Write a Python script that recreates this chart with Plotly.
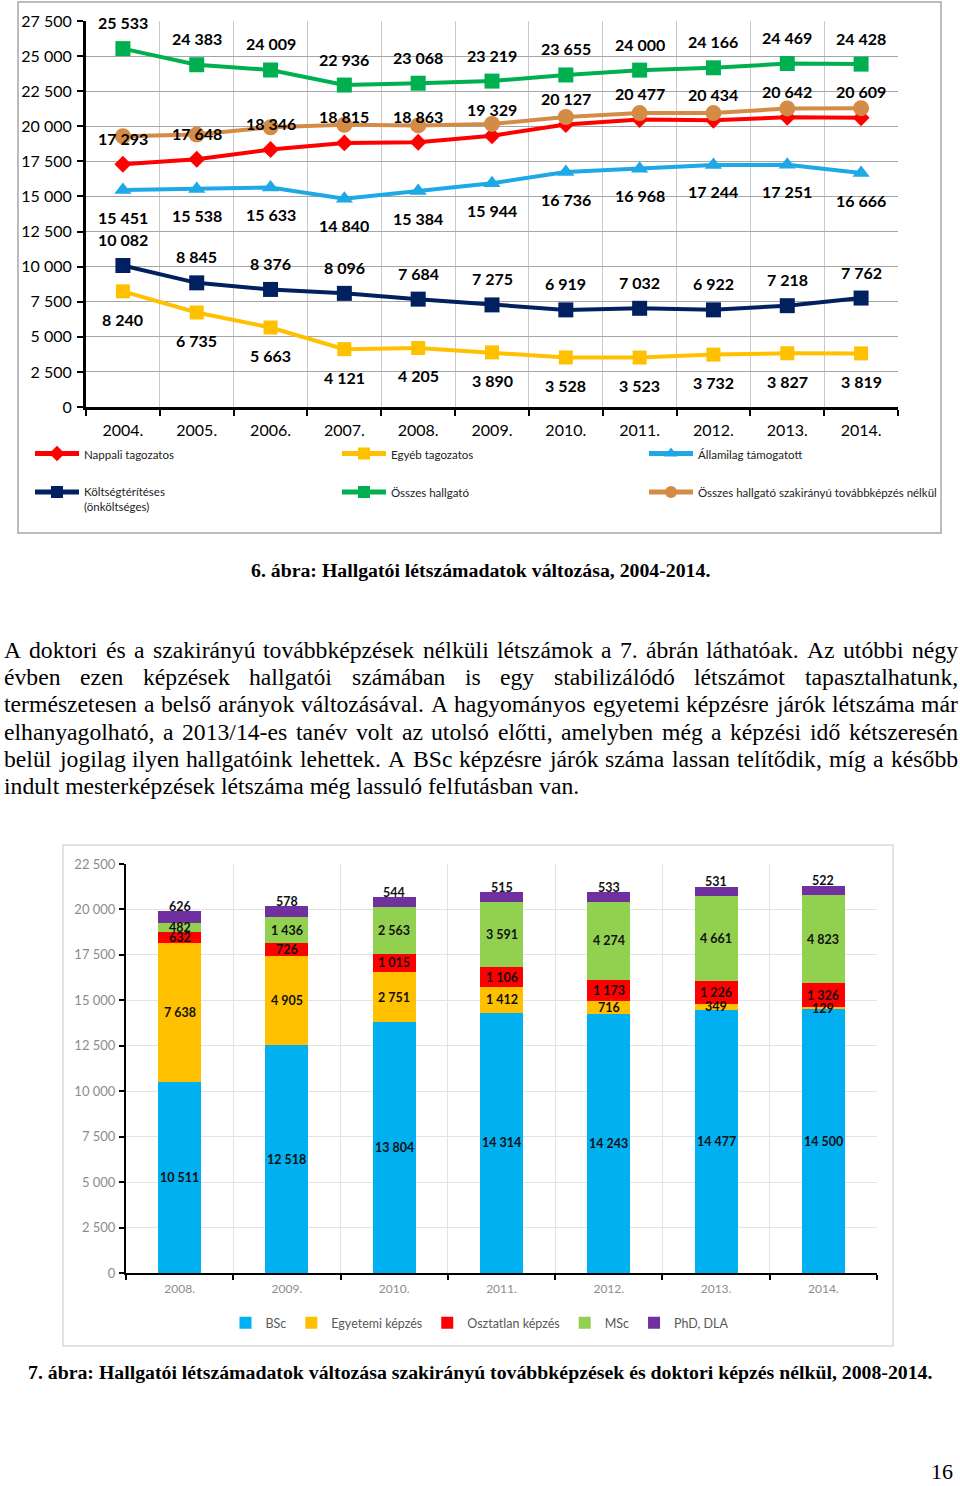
import plotly.graph_objects as go

W, H = 960, 1486

# ---------------- data: figure 6 ----------------
years_top = ["2004.", "2005.", "2006.", "2007.", "2008.", "2009.", "2010.", "2011.", "2012.", "2013.", "2014."]
nappali = [17293, 17648, 18346, 18815, 18863, 19329, 20127, 20477, 20434, 20642, 20609]
egyeb = [8240, 6735, 5663, 4121, 4205, 3890, 3528, 3523, 3732, 3827, 3819]
allami = [15451, 15538, 15633, 14840, 15384, 15944, 16736, 16968, 17244, 17251, 16666]
koltseg = [10082, 8845, 8376, 8096, 7684, 7275, 6919, 7032, 6922, 7218, 7762]
osszes = [25533, 24383, 24009, 22936, 23068, 23219, 23655, 24000, 24166, 24469, 24428]
osszes_nelkul = [19290, 19410, 19930, 20110, 20060, 20170, 20660, 20940, 20940, 21270, 21290]

# ---------------- data: figure 7 ----------------
years_bot = ["2008.", "2009.", "2010.", "2011.", "2012.", "2013.", "2014."]
bsc = [10511, 12518, 13804, 14314, 14243, 14477, 14500]
egyetemi = [7638, 4905, 2751, 1412, 716, 349, 129]
osztatlan = [632, 726, 1015, 1106, 1173, 1226, 1326]
msc = [482, 1436, 2563, 3591, 4274, 4661, 4823]
phd = [626, 578, 544, 515, 533, 531, 522]

caption6 = "6. ábra: Hallgatói létszámadatok változása, 2004-2014."
caption7 = "7. ábra: Hallgatói létszámadatok változása szakirányú továbbképzések és doktori képzés nélkül, 2008-2014."
body_lines = [
    "A doktori és a szakirányú továbbképzések nélküli létszámok a 7. ábrán láthatóak. Az utóbbi négy",
    "évben ezen képzések hallgatói számában is egy stabilizálódó létszámot tapasztalhatunk,",
    "természetesen a belső arányok változásával. A hagyományos egyetemi képzésre járók létszáma már",
    "elhanyagolható, a 2013/14-es tanév volt az utolsó előtti, amelyben még a képzési idő kétszeresén",
    "belül jogilag ilyen hallgatóink lehettek. A BSc képzésre járók száma lassan telítődik, míg a később",
    "indult mesterképzések létszáma még lassuló felfutásban van.",
]
page_no = "16"


def X(px):
    return px / W


def Y(py):
    return 1 - py / H


def fmt(v):
    return f"{v:,}".replace(",", " ")


CH = "Lato"
fig = go.Figure()

# ---------- top line chart ----------
top_series = [
    ("Nappali tagozatos", nappali, "#FF0000", "diamond", 13, "legend"),
    ("Egyéb tagozatos", egyeb, "#FFC000", "square", 14, "legend"),
    ("Államilag támogatott", allami, "#1EA8E6", "triangle-up", 15, "legend"),
    ("Költségtérítéses<br>(önköltséges)", koltseg, "#002060", "square", 15, "legend2"),
    ("Összes hallgató", osszes, "#00B050", "square", 15, "legend2"),
    ("Összes hallgató szakirányú továbbképzés nélkül", osszes_nelkul, "#D38B45", "circle", 16, "legend2"),
]
for name, vals, col, sym, sz, lg in top_series:
    fig.add_trace(go.Scatter(
        x=years_top, y=vals, name=name, mode="lines+markers",
        line=dict(color=col, width=4), marker=dict(color=col, symbol=sym, size=sz),
        xaxis="x", yaxis="y", legend=lg, hoverinfo="skip"))

ann = []
label_specs = [(osszes, 26), (nappali, 26), (allami, -27), (koltseg, 26), (egyeb, -28)]
for vals, shift in label_specs:
    for i, v in enumerate(vals):
        ann.append(dict(x=i, y=v, xref="x", yref="y", text=fmt(v), showarrow=False,
                        xanchor="center", yanchor="middle", yshift=shift,
                        font=dict(family=CH, size=16, color="#000000", weight="bold")))

# ---------- bottom stacked bar chart ----------
bar_series = [
    ("BSc", bsc, "#00B0F0"),
    ("Egyetemi képzés", egyetemi, "#FFC000"),
    ("Osztatlan képzés", osztatlan, "#FF0000"),
    ("MSc", msc, "#92D050"),
    ("PhD, DLA", phd, "#7030A0"),
]
base = [0] * len(years_bot)
for name, vals, col in bar_series:
    fig.add_trace(go.Bar(x=years_bot, y=vals, name=name, marker=dict(color=col, line=dict(width=0)),
                         xaxis="x2", yaxis="y2", legend="legend3", hoverinfo="skip"))
    for i, v in enumerate(vals):
        if name == "PhD, DLA":
            yy, ys = base[i] + v, 5
        else:
            yy, ys = base[i] + v / 2, 0
        ann.append(dict(x=i, y=yy, xref="x2", yref="y2", text=fmt(v), showarrow=False, yshift=ys,
                        xanchor="center", yanchor="middle",
                        font=dict(family=CH, size=12.5, color="#111111", weight="bold")))
        base[i] += v

# ---------- page text ----------
TW = {" ": 250, "a": 444, "b": 500, "c": 444, "d": 500, "e": 444, "f": 333, "g": 500, "h": 500, "i": 278,
      "j": 278, "k": 500, "l": 278, "m": 778, "n": 500, "o": 500, "p": 500, "q": 500, "r": 333, "s": 389,
      "t": 278, "u": 500, "v": 500, "w": 722, "x": 500, "y": 500, "z": 444,
      "A": 722, "B": 667, "C": 667, "D": 722, "E": 611, "F": 556, "G": 722, "H": 722, "I": 333, "J": 389,
      "K": 722, "L": 611, "M": 889, "N": 722, "O": 722, "P": 556, "Q": 722, "R": 667, "S": 556, "T": 611,
      "U": 722, "V": 722, "W": 944, "X": 722, "Y": 722, "Z": 611, ".": 250, ",": 250, "/": 278, "-": 333,
      "á": 444, "é": 444, "í": 278, "ó": 500, "ö": 500, "ő": 500, "ú": 500, "ü": 500, "ű": 500}


def em(s):
    return sum(TW.get(c, 500) for c in s) / 1000


left_px, right_px = 3, 957
natural = max(em(l) for l in body_lines[:-1])
fs = min(23.7, 0.99 * (right_px - left_px) / natural)
for i, line in enumerate(body_lines):
    yc = 650 + i * 27.2
    tf = dict(family="Liberation Serif", size=fs, color="#000000")
    if i == len(body_lines) - 1:
        ann.append(dict(x=X(left_px), y=Y(yc), xref="paper", yref="paper", text=line, showarrow=False,
                        xanchor="left", yanchor="middle", borderpad=0, font=tf))
        continue
    words = line.split(" ")
    widths = [em(w) * fs for w in words]
    gap = (right_px - left_px - sum(widths)) / (len(words) - 1)
    x = left_px
    for w, wd in zip(words, widths):
        ann.append(dict(x=X(x), y=Y(yc), xref="paper", yref="paper", text=w, showarrow=False,
                        xanchor="left", yanchor="middle", borderpad=0, font=tf))
        x += wd + gap

ann.append(dict(x=X(480), y=Y(570), xref="paper", yref="paper", text="<b>" + caption6 + "</b>",
                showarrow=False, xanchor="center", yanchor="middle",
                font=dict(family="Liberation Serif", size=19.8, color="#000000")))
ann.append(dict(x=X(480), y=Y(1372), xref="paper", yref="paper", text="<b>" + caption7 + "</b>",
                showarrow=False, xanchor="center", yanchor="middle",
                font=dict(family="Liberation Serif", size=19.8, color="#000000")))
ann.append(dict(x=X(954), y=Y(1471), xref="paper", yref="paper", text=page_no, showarrow=False,
                xanchor="right", yanchor="middle", borderpad=0,
                font=dict(family="Liberation Serif", size=22, color="#000000")))

shapes = [
    dict(type="rect", xref="paper", yref="paper", x0=X(18), x1=X(941), y0=Y(533), y1=Y(2),
         line=dict(color="#A6A6A6", width=1.5), layer="below"),
    dict(type="rect", xref="paper", yref="paper", x0=X(63), x1=X(893), y0=Y(1346), y1=Y(845),
         line=dict(color="#D9D9D9", width=1.5), layer="below"),
]

fig.update_layout(
    width=W, height=H, margin=dict(l=0, r=0, t=0, b=0, autoexpand=False),
    paper_bgcolor="white", plot_bgcolor="white", separators=", ",
    barmode="stack", bargap=0.6, showlegend=True,
    annotations=ann, shapes=shapes,
    xaxis=dict(domain=[X(86), X(898)], type="category", categoryorder="array", categoryarray=years_top,
               range=[-0.5, 10.5], showline=True, linecolor="#000000", linewidth=3, ticks="outside",
               tickson="boundaries", ticklen=6, tickwidth=2, tickcolor="#000000", showgrid=True,
               gridcolor="#C8C8C8", gridwidth=1, tickfont=dict(family=CH, size=16, color="#000000"),
               ticklabelstandoff=7, fixedrange=True),
    yaxis=dict(domain=[Y(407), Y(21)], range=[0, 27500], dtick=2500, tickformat=",d", showline=True,
               linecolor="#000000", linewidth=3, ticks="outside", ticklen=6, tickwidth=2,
               tickcolor="#000000", showgrid=True, gridcolor="#A6A6A6", gridwidth=1, zeroline=False,
               tickfont=dict(family=CH, size=16, color="#000000"), ticklabelstandoff=2, fixedrange=True),
    xaxis2=dict(domain=[X(126), X(877)], anchor="y2", type="category", categoryorder="array",
                categoryarray=years_bot, range=[-0.5, 6.5], showline=True, linecolor="#000000", linewidth=2,
                ticks="outside", tickson="boundaries", ticklen=5, tickwidth=1.5, tickcolor="#000000",
                showgrid=True, gridcolor="#E3E3E3", gridwidth=1,
                tickfont=dict(family=CH, size=12, color="#8C8C8C"), ticklabelstandoff=4, fixedrange=True),
    yaxis2=dict(domain=[Y(1273), Y(864)], anchor="x2", range=[0, 22500], dtick=2500, tickformat=",d",
                showline=True, linecolor="#000000", linewidth=2, ticks="outside", ticklen=5, tickwidth=1.5,
                tickcolor="#000000", showgrid=True, gridcolor="#E3E3E3", gridwidth=1, zeroline=False,
                tickfont=dict(family=CH, size=13, color="#8C8C8C"), ticklabelstandoff=1, fixedrange=True),
    legend=dict(orientation="h", x=X(30), xanchor="left", y=Y(454), yanchor="middle",
                entrywidth=248, entrywidthmode="pixels", itemwidth=44, itemsizing="constant",
                font=dict(family=CH, size=11.5, color="#222222"), bgcolor="rgba(0,0,0,0)", valign="top"),
    legend2=dict(orientation="h", x=X(30), xanchor="left", y=Y(478), yanchor="top",
                 entrywidth=248, entrywidthmode="pixels", itemwidth=44, itemsizing="constant",
                 font=dict(family=CH, size=11.5, color="#222222"), bgcolor="rgba(0,0,0,0)", valign="top"),
    legend3=dict(orientation="h", x=0.5, xanchor="center", y=Y(1323), yanchor="middle",
                 traceorder="normal", itemwidth=30,
                 font=dict(family=CH, size=12.5, color="#595959"), bgcolor="rgba(0,0,0,0)"),
)

fig.write_html("out.html")
